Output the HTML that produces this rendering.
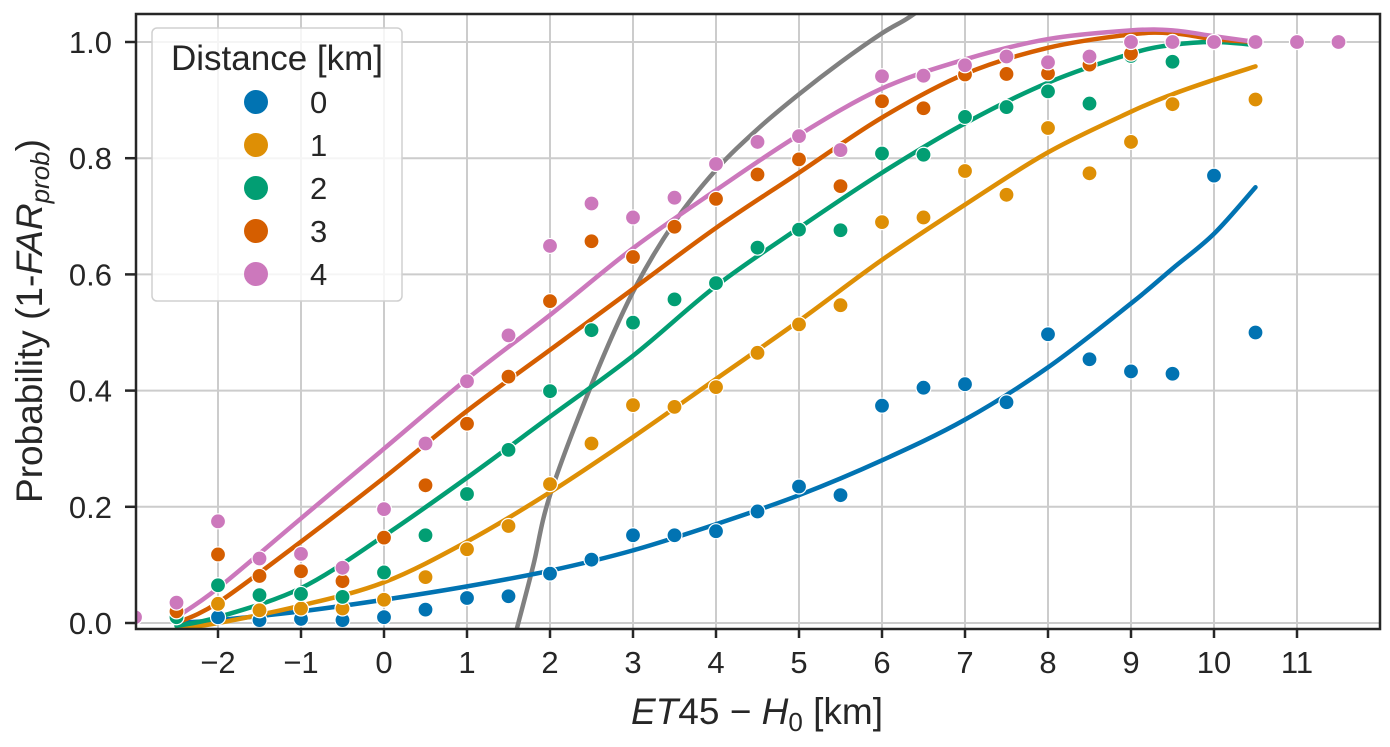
<!DOCTYPE html>
<html><head><meta charset="utf-8"><style>
body{margin:0;background:#fff;}
svg text{font-family:"Liberation Sans",sans-serif;fill:#262626;}
</style></head><body>
<svg id="chart" width="1390" height="742" xmlns="http://www.w3.org/2000/svg">
<defs><clipPath id="clip"><rect x="136" y="14" width="1244" height="615"/></clipPath></defs>
<g id="grid"></g>
<g id="lines" clip-path="url(#clip)"></g>
<g id="points" clip-path="url(#clip)"></g>
<rect x="136" y="14" width="1244" height="615" fill="none" stroke="#262626" stroke-width="2.5"/>
<g id="axes"></g>
<text x="757" y="724" text-anchor="middle" font-size="37"><tspan font-style="italic">ET</tspan>45 − <tspan font-style="italic">H</tspan><tspan font-size="26" dy="7">0</tspan><tspan dy="-7"> [km]</tspan></text>
<text transform="translate(42,321) rotate(-90)" text-anchor="middle" font-size="37">Probability (1-<tspan font-style="italic">FAR</tspan><tspan font-style="italic" font-size="26" dy="7">prob</tspan><tspan dy="-7">)</tspan></text>
<g id="legend">
<rect x="152" y="28" width="250" height="273" rx="5" fill="#fff" fill-opacity="0.8" stroke="#d0d0d0" stroke-width="1.5"/>
<text x="277" y="70" text-anchor="middle" font-size="35">Distance [km]</text>
</g>
</svg>
<script>
const xs = [-3,-2.5,-2,-1.5,-1,-0.5,0,0.5,1,1.5,2,2.5,3,3.5,4,4.5,5,5.5,6,6.5,7,7.5,8,8.5,9,9.5,10,10.5,11,11.5];
const pts0 = [null,0.01,0.01,0.005,0.007,0.005,0.01,0.023,0.043,0.046,0.085,0.109,0.151,0.151,0.158,0.192,0.235,0.220,0.374,0.405,0.411,0.380,0.497,0.454,0.433,0.429,0.770,0.500,null,null];
const pts1 = [null,0.02,0.033,0.022,0.025,0.025,0.04,0.079,0.127,0.167,0.239,0.309,0.375,0.372,0.406,0.465,0.514,0.547,0.690,0.698,0.778,0.737,0.852,0.774,0.828,0.893,null,0.901,null,null];
const pts2 = [null,0.01,0.065,0.048,0.05,0.045,0.087,0.151,0.222,0.298,0.399,0.504,0.517,0.557,0.585,0.646,0.677,0.676,0.808,0.806,0.871,0.888,0.915,0.894,0.976,0.966,null,1.0,null,null];
const pts3 = [null,0.02,0.118,0.081,0.089,0.072,0.147,0.237,0.343,0.424,0.554,0.657,0.630,0.682,0.730,0.772,0.798,0.752,0.898,0.886,0.944,0.945,0.946,0.961,0.98,1.0,1.0,1.0,null,null];
const pts4 = [0.01,0.035,0.175,0.111,0.119,0.095,0.196,0.309,0.416,0.495,0.649,0.722,0.698,0.732,0.790,0.828,0.838,0.814,0.941,0.942,0.960,0.975,0.965,0.975,1.0,1.0,1.0,1.0,1.0,1.0];
const fitX = [-2.5,-2,-1,0,1,2,3,4,5,6,7,8,9,9.5,10,10.5];
const fit0 = [0,0.005,0.02,0.04,0.063,0.09,0.125,0.17,0.22,0.28,0.35,0.44,0.55,0.61,0.67,0.75];
const fit1 = [-0.01,0,0.03,0.07,0.14,0.225,0.32,0.42,0.52,0.625,0.72,0.81,0.88,0.91,0.935,0.958];
const fit2 = [-0.005,0.01,0.06,0.15,0.25,0.355,0.46,0.58,0.68,0.775,0.86,0.93,0.98,0.995,1.0,0.995];
const fit3 = [0,0.035,0.14,0.25,0.365,0.47,0.575,0.68,0.775,0.87,0.945,0.99,1.013,1.015,1.005,1.0];
const fit4 = [0.01,0.06,0.18,0.3,0.42,0.53,0.645,0.745,0.84,0.92,0.97,1.005,1.02,1.02,1.01,1.0];
const grayX = [1.6,1.8,2,2.5,3,3.5,4,4.5,5,5.5,6,6.3,6.6];
const grayY = [-0.01,0.1,0.22,0.41,0.57,0.69,0.78,0.85,0.91,0.965,1.015,1.04,1.07];
const xTicks = [-2,-1,0,1,2,3,4,5,6,7,8,9,10,11];
const yTicks = [0,0.2,0.4,0.6,0.8,1.0];
const yTickLabels = ["0.0","0.2","0.4","0.6","0.8","1.0"];
const legendLabels = ["0","1","2","3","4"];
const colors = ["#0173b2","#de8f05","#029e73","#d55e00","#cc78bc"];

const NS="http://www.w3.org/2000/svg";
const X=v=>384+(v)*83;
const Y=v=>623-v*581;
function mk(tag,attrs,parent){const e=document.createElementNS(NS,tag);for(const k in attrs)e.setAttribute(k,attrs[k]);parent.appendChild(e);return e;}
const grid=document.getElementById('grid'),axes=document.getElementById('axes');
xTicks.forEach(t=>{
  const g=mk('line',{x1:X(t),x2:X(t),y1:14,y2:629,stroke:'#cccccc','stroke-width':2},grid);
  
  
  const tk=mk('line',{x1:X(t),x2:X(t),y1:629,y2:638,stroke:'#262626','stroke-width':2.5},axes);
  
  
  const tx=mk('text',{x:X(t),y:673,'text-anchor':'middle','font-size':31},axes);
  tx.textContent=(t<0?'−'+(-t):''+t);
  
  
});
yTicks.forEach((t,i)=>{
  const g=mk('line',{x1:136,x2:1380,y1:Y(t),y2:Y(t),stroke:'#cccccc','stroke-width':2},grid);
  
  
  const tk=mk('line',{x1:125,x2:136,y1:Y(t),y2:Y(t),stroke:'#262626','stroke-width':2.5},axes);
  
  
  const tx=mk('text',{x:112,y:Y(t)+11,'text-anchor':'end','font-size':31},axes);
  tx.textContent=yTickLabels[i];
  
  
});
function smooth(xa,ya){
  const p=xa.map((x,i)=>[X(x),Y(ya[i])]);
  let d='M'+p[0][0]+','+p[0][1];
  for(let i=0;i<p.length-1;i++){
    const p0=p[Math.max(0,i-1)],p1=p[i],p2=p[i+1],p3=p[Math.min(p.length-1,i+2)];
    const c1=[p1[0]+(p2[0]-p0[0])/6,p1[1]+(p2[1]-p0[1])/6];
    const c2=[p2[0]-(p3[0]-p1[0])/6,p2[1]-(p3[1]-p1[1])/6];
    d+=' C'+c1+' '+c2+' '+p2;
  }
  return d;
}
const lines=document.getElementById('lines'),points=document.getElementById('points');
const fits=[fit0,fit1,fit2,fit3,fit4],pts=[pts0,pts1,pts2,pts3,pts4];
const gl=mk('path',{d:smooth(grayX,grayY),fill:'none',stroke:'#808080','stroke-width':4.5,'stroke-linecap':'round'},lines);


fits.forEach((f,s)=>{
  const l=mk('path',{d:smooth(fitX,f),fill:'none',stroke:colors[s],'stroke-width':4.5,'stroke-linecap':'round'},lines);
  
  
});
pts.forEach((arr,s)=>{
  arr.forEach((v,i)=>{
    if(v===null)return;
    const c=mk('circle',{cx:X(xs[i]),cy:Y(v),r:7.5,fill:colors[s],stroke:'#fff','stroke-width':1.2},points);
    
    
  });
});
const leg=document.getElementById('legend');
legendLabels.forEach((lab,i)=>{
  const y=102+i*43;
  const c=mk('circle',{cx:256,cy:y,r:12,fill:colors[i]},leg);
  
  
  const t=mk('text',{x:310,y:y+11,'font-size':31},leg);
  t.textContent=lab;
  
  
});
</script>
</body></html>
